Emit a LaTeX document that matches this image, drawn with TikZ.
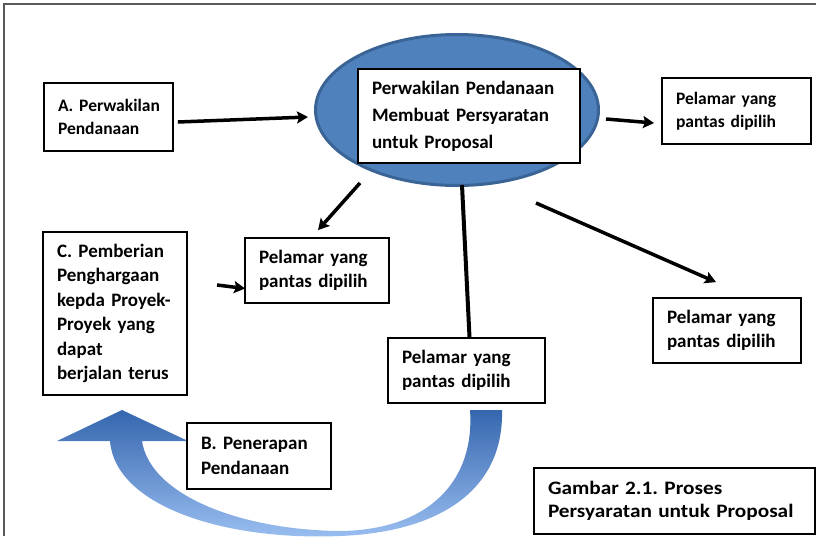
\documentclass[tikz,border=0pt]{standalone}
\usepackage{fontspec}
\setmainfont{Carlito}
\newfontfamily\capfont{Carlito}[FakeStretch=1.12]
\usetikzlibrary{shapes.geometric,arrows.meta}
\definecolor{ellfill}{HTML}{4F81BD}
\definecolor{ellline}{HTML}{3A6496}
\definecolor{framegray}{HTML}{5A5A5A}
\definecolor{curvetop}{HTML}{3566AE}
\definecolor{curvebot}{HTML}{9CC0F2}
\frenchspacing
\hyphenpenalty=10000
\exhyphenpenalty=10000
\begin{document}
\begin{tikzpicture}[x=1pt,y=-1pt,
  box/.style={draw=black, line width=1.8pt, fill=white, inner xsep=14pt,
              inner ysep=0pt, align=left},
  txtbig/.style={font=\bfseries\fontsize{19}{27}\selectfont},
  txtmid/.style={font=\bfseries\fontsize{19}{24.5}\selectfont},
  txtsmall/.style={font=\bfseries\fontsize{17.5}{23}\selectfont},
  txtcap/.style={font=\capfont\bfseries\fontsize{19}{22.5}\selectfont},
  arr/.style={line width=3.5pt, -{Stealth[length=11pt,width=12pt,inset=2pt]}},
  link/.style={line width=4pt}]
\useasboundingbox (0,0) rectangle (816,536);

% page frame
\draw[framegray, line width=2pt] (4,536) -- (4,4) -- (816,4);

% central ellipse with its label box
\node[ellipse, draw=ellline, line width=3pt, fill=ellfill,
      minimum width=283pt, minimum height=151pt, inner sep=0pt] (ell) at (457,110) {};
\node[box, txtbig, minimum width=222pt, minimum height=94pt, text width=194pt]
  (ctr) at (469,116) {Perwakilan Pendanaan\\Membuat Persyaratan\\untuk Proposal};

% boxes
\node[box, txtsmall, minimum width=129pt, minimum height=68pt, text width=101pt]
  (A) at (108.5,117) {\mbox{A. Perwakilan}\\Pendanaan};
\node[box, txtsmall, minimum width=149pt, minimum height=66pt, text width=121pt]
  (tr) at (736.5,111) {Pelamar yang\\pantas dipilih};
\node[box, txtmid, minimum width=144pt, minimum height=65pt, text width=116pt]
  (mid) at (317,270.5) {Pelamar yang\\pantas dipilih};
\node[box, txtmid, minimum width=144pt, minimum height=163pt, text width=116pt]
  (C) at (115,313.5) {C. Pemberian\\Penghargaan\\kepda Proyek-\\Proyek yang\\dapat\\berjalan terus};
\node[box, txtmid, minimum width=157pt, minimum height=65pt, text width=129pt]
  (lm) at (466.5,370.5) {Pelamar yang\\pantas dipilih};
\node[box, txtmid, minimum width=148pt, minimum height=65pt, text width=120pt]
  (rt) at (727,330.5) {Pelamar yang\\pantas dipilih};

% curved return arrow
\shade[top color=curvetop, bottom color=curvebot]
  (502,410) .. controls (504,490) and (440,532) .. (340,536)
  .. controls (222,541) and (115,505) .. (110,441)
  -- (57,441) -- (122,410) -- (188,441) -- (142,441)
  .. controls (150,495) and (240,530) .. (340,531)
  .. controls (430,530) and (475,480) .. (470,410) -- cycle;

\node[box, txtmid, minimum width=144pt, minimum height=66pt, text width=116pt]
  (B) at (259,456) {B. Penerapan\\Pendanaan};
\node[box, txtcap, minimum width=281pt, minimum height=66pt, text width=253pt]
  (cap) at (674.5,501) {Gambar 2.1. Proses\\Persyaratan untuk Proposal};

% connectors
\coordinate (inmid) at (217,285);
\draw[arr] ([shift={(4,5)}]A.east) -- ([shift={(-6,7)}]ell.west);
\draw[arr] ([shift={(6,9)}]ell.east) -- ([shift={(-7,12)}]tr.west);
\draw[arr] ([shift={(-97,-4)}]ell.south) -- ([shift={(1,-7)}]mid.north);
\draw[link] ([shift={(5,-2)}]ell.south) -- ([xshift=3pt]lm.north);
\draw[arr] ([shift={(79,16)}]ell.south) -- ([shift={(-11,-15)}]rt.north);
\draw[arr] (inmid) -- ([shift={(1,18)}]mid.west);
\end{tikzpicture}
\end{document}
